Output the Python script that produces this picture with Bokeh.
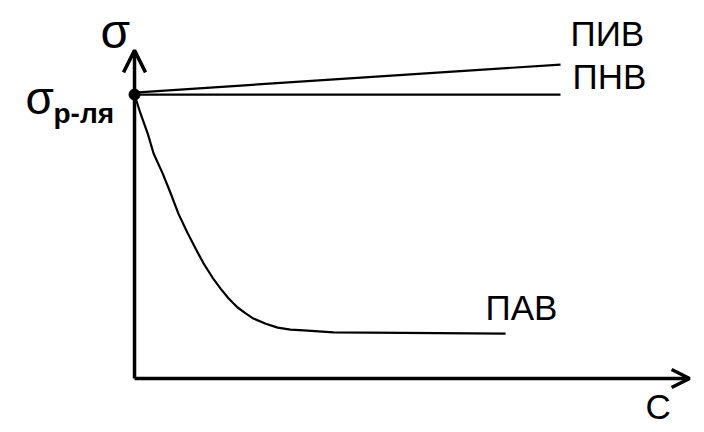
from bokeh.plotting import figure
from bokeh.models import Range1d, Label, Arrow, OpenHead
from bokeh.embed import file_html
from bokeh.resources import INLINE

# --- data (arbitrary units: C concentration, sigma surface tension) ---
sigma0 = 72.0                     # σ р-ля (pure solvent)
c_end = 10.0
piv_c = [0.0, 10.0]               # ПИВ (surface-inactive): rises slightly
piv_s = [72.5, 79.6]
pnv_c = [0.0, 10.0]               # ПНВ (surface-indifferent): constant
pnv_s = [72.0, 72.0]
pav_c = [0.0, 0.14, 0.31, 0.45, 0.66, 0.85, 1.03, 1.24, 1.43, 1.62, 1.83, 2.02,
         2.21, 2.42, 2.61, 2.79, 3.08, 3.36, 3.66, 3.97, 4.67, 8.71]          # ПАВ
pav_s = [72.0, 67.2, 62.1, 57.0, 52.0, 46.9, 41.8, 37.0, 33.0, 29.2, 25.6, 22.8,
         20.3, 18.0, 16.5, 15.2, 13.9, 12.9, 12.4, 12.2, 11.7, 11.4]
x_axis_end = 13.03
y_axis_end = 83.2

FONT = "Liberation Sans"

p = figure(width=704, height=432, output_backend="svg", toolbar_location=None,
           x_range=Range1d(-3.146, 13.380), y_range=Range1d(-13.69, 95.84),
           x_axis_type=None, y_axis_type=None, min_border=0,
           outline_line_color=None, background_fill_color="white",
           border_fill_color="white")
p.grid.visible = False

# axes with arrows
p.add_layout(Arrow(x_start=0, y_start=0, x_end=x_axis_end, y_end=0,
                   line_width=3.5, line_color="black",
                   end=OpenHead(size=18, line_width=3.5, line_color="black")))
p.add_layout(Arrow(x_start=0, y_start=0, x_end=0, y_end=y_axis_end,
                   line_width=3.5, line_color="black",
                   end=OpenHead(size=22, line_width=3.5, line_color="black")))

# curves
p.line(piv_c, piv_s, line_width=2.2, line_color="black")
p.line(pnv_c, pnv_s, line_width=2.2, line_color="black")
p.line(pav_c, pav_s, line_width=2.2, line_color="black", line_join="round")
p.scatter([0], [sigma0], size=11, color="black")

def lab(x, y, text, dx, dy, size, style="normal"):
    p.add_layout(Label(x=x, y=y, x_offset=dx, y_offset=dy, text=text,
                       text_font=FONT, text_font_size=size, text_color="black",
                       text_baseline="alphabetic", text_align="left",
                       text_font_style=style))

lab(c_end, piv_s[-1], "ПИВ", 10, 31, "35px")
lab(c_end, pnv_s[-1], "ПНВ", 12, 18, "35px")
lab(pav_c[-1], pav_s[-1], "ПАВ", -20, 26, "35px")
lab(x_axis_end, 0, "С", -44, -28, "35px")
lab(0, y_axis_end, "σ", -34, 19, "48px")
lab(0, sigma0, "σ", -109, -3, "46px")
lab(0, sigma0, "р-ля", -81, -19, "28px", "bold")

open("out.html", "w").write(file_html(p, INLINE))
